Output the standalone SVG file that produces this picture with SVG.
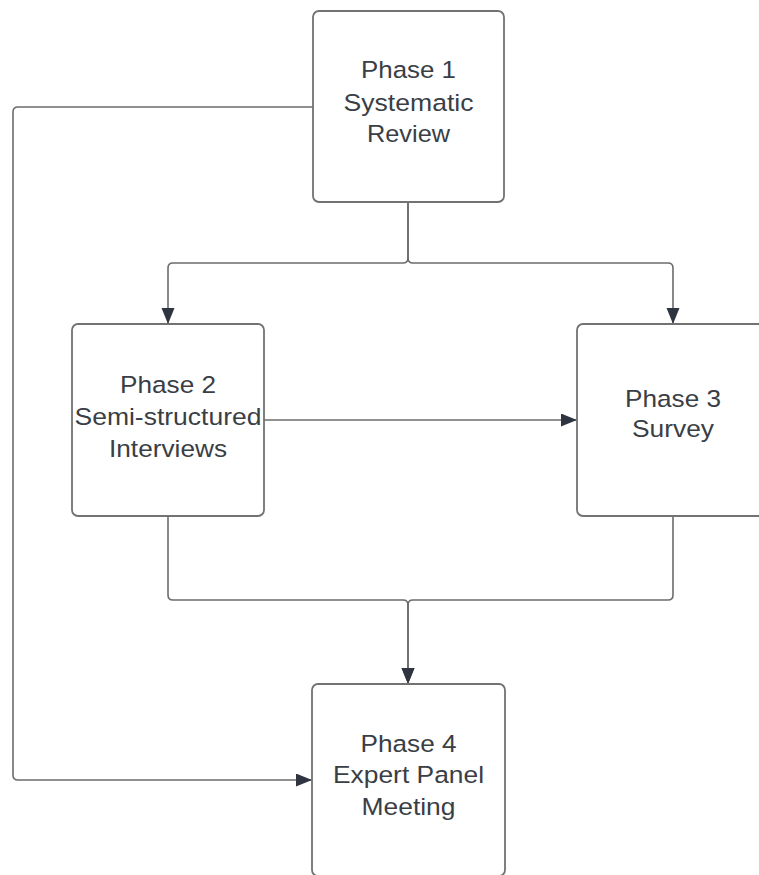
<svg xmlns="http://www.w3.org/2000/svg" width="759" height="875" viewBox="0 0 759 875">
<style>
.box{fill:#ffffff;stroke:#727272;stroke-width:1.8}
.lbl{font-family:"Liberation Sans",Arial,sans-serif;font-size:24.5px;fill:#3a3e45;text-anchor:middle}
.con{fill:none;stroke:#6c6c6c;stroke-width:1.6}
</style>
<defs>
<marker id="ah" markerUnits="userSpaceOnUse" markerWidth="17" markerHeight="14" refX="16" refY="6.5" orient="auto">
<path d="M0,0 L16,6.5 L0,13 z" fill="#2f3540"/>
</marker>
</defs>
<rect width="759" height="875" fill="#ffffff"/>
<g id="connectors">
<path class="con" d="M313,107 H18 Q13,107 13,112 V775 Q13,780 18,780 H312" marker-end="url(#ah)"/>
<path class="con" d="M408,202 V258 Q408,263 403,263 H173 Q168,263 168,268 V324" marker-end="url(#ah)"/>
<path class="con" d="M408,202 V258 Q408,263 413,263 H668 Q673,263 673,268 V324" marker-end="url(#ah)"/>
<path class="con" d="M264,420 H577" marker-end="url(#ah)"/>
<path class="con" d="M168,516 V595 Q168,600 173,600 H403 Q408,600 408,605 V684" marker-end="url(#ah)"/>
<path class="con" d="M673,516 V595 Q673,600 668,600 H413 Q408,600 408,605 V684" marker-end="url(#ah)"/>
</g>
<g id="phase1">
<rect class="box" x="313" y="11" width="191" height="191" rx="6"/>
<text class="lbl" x="408.5" y="78" textLength="95" lengthAdjust="spacingAndGlyphs">Phase 1</text>
<text class="lbl" x="408.5" y="111" textLength="130" lengthAdjust="spacingAndGlyphs">Systematic</text>
<text class="lbl" x="408.5" y="142" textLength="83" lengthAdjust="spacingAndGlyphs">Review</text>
</g>
<g id="phase2">
<rect class="box" x="72" y="324" width="192" height="192" rx="6"/>
<text class="lbl" x="168" y="393" textLength="96" lengthAdjust="spacingAndGlyphs">Phase 2</text>
<text class="lbl" x="168" y="425" textLength="187" lengthAdjust="spacingAndGlyphs">Semi-structured</text>
<text class="lbl" x="168" y="456.5" textLength="118" lengthAdjust="spacingAndGlyphs">Interviews</text>
</g>
<g id="phase3">
<rect class="box" x="577" y="324" width="192" height="192" rx="6"/>
<text class="lbl" x="673" y="406.5" textLength="96" lengthAdjust="spacingAndGlyphs">Phase 3</text>
<text class="lbl" x="673" y="437" textLength="82" lengthAdjust="spacingAndGlyphs">Survey</text>
</g>
<g id="phase4">
<rect class="box" x="312" y="684" width="193" height="192" rx="6"/>
<text class="lbl" x="408.5" y="751.5" textLength="96" lengthAdjust="spacingAndGlyphs">Phase 4</text>
<text class="lbl" x="408.5" y="783" textLength="151" lengthAdjust="spacingAndGlyphs">Expert Panel</text>
<text class="lbl" x="408.5" y="815" textLength="94" lengthAdjust="spacingAndGlyphs">Meeting</text>
</g>
</svg>
